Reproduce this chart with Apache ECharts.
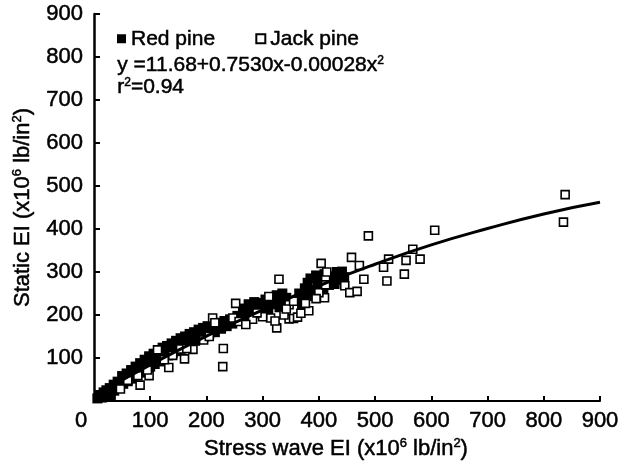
<!DOCTYPE html>
<html>
<head>
<meta charset="utf-8">
<script src="https://cdn.jsdelivr.net/npm/echarts@6/dist/echarts.min.js"></script>
<style>html,body{margin:0;padding:0;background:#fff;}#c{width:627px;height:473px;}</style>
</head>
<body>
<div id="c"></div>
<script>
// ---- data ----
const seriesNames = ['Red pine', 'Jack pine'];
const redPine = [
  [6,6],[10,14],[14,8],[17,20],
  [20,10],[22,25],[25,18],[28,30],[30,14],[35,38],[36,24],[42,45],[44,30],[46,38],[50,58],[52,40],[54,50],
  [58,64],[60,46],[62,56],[66,72],[68,52],[70,62],[74,80],[76,60],[78,70],[82,88],[84,66],[86,78],
  [90,96],[92,72],[94,84],[98,104],[100,80],[102,92],[106,110],[108,86],[110,98],[114,118],[116,92],[118,104],
  [122,124],[124,98],[126,112],[130,128],[132,106],[134,118],[138,134],[140,112],[142,124],[146,140],[148,116],[150,128],
  [154,146],[156,122],[158,134],[162,150],[164,128],[166,140],[170,156],[172,134],[174,146],[178,160],[180,140],[182,150],
  [186,166],[188,144],[190,156],[194,170],[196,150],[198,160],[202,174],[205,156],[208,166],[212,178],[215,160],[218,170],
  [222,182],[226,168],[232,186],[236,174],[242,190],[246,180],[255,198],[260,188],[265,215],[268,200],[270,190],
  [275,225],[278,210],[280,198],[285,230],[288,215],[290,204],[295,228],[298,212],[305,236],[308,220],[310,208],
  [315,240],[318,225],[325,246],[328,230],[330,218],[335,250],[338,235],[342,240],[345,226],[365,250],[368,236],[370,225],
  [375,262],[378,248],[380,275],[385,285],[388,258],[390,244],[395,292],[398,270],[400,255],[405,280],[408,262],[410,295],
  [415,285],[418,270],[425,290],[428,272],[432,300],[436,282],[441,301],[445,288]
];
const jackPine = [
  [838,480],[835,416],[606,397],[567,353],[555,327],[580,330],[552,295],[488,384],[524,330],[515,311],[521,279],[480,283],
  [472,315],[458,334],[446,268],[455,252],[468,255],[404,320],[410,240],[329,283],[252,227],[211,193],[247,193],[230,122],
  [229,80],[325,170],[347,191],[355,192],[362,195],[368,204],[382,210],[347,224],[314,193],[376,227],[412,289],[311,243],
  [176,120],[161,98],[133,78],[113,119],[98,59],[82,37],[47,28],[78,59],[125,96],[154,121],
  [60,48],[95,72],[140,106],[165,122],[195,142],[205,150],[215,182],[258,185],[282,190],[300,196],[322,186],[338,200],
  [342,214],[355,232],[400,252],[412,270],[414,300],[395,238],[290,205],[270,178]
];
const fitX = [20,100,200,300,400,500,600,700,800,900];
const fitY = [27,84,151,212,268,318,363,401,435,462];
const axisMax = 900, axisStep = 100;
const xName = 'Stress wave EI (x10{sup|6} lb/in{sup|2})';
const yName = 'Static EI (x10{sup|6} lb/in{sup|2})';
const equation = 'y =11.68+0.7530x-0.00028x{sup|2}';
const rSquared = 'r{sup|2}=0.94';

const FONT = "'Liberation Sans', Arial, Helvetica, sans-serif";
const thick = { textBorderColor: '#000', textBorderWidth: 0.5 };
const supStyle = Object.assign({ fontSize: 13, lineHeight: 13, verticalAlign: 'top', fontFamily: FONT, color: '#000' }, thick);

const chart = echarts.init(document.getElementById('c'), null, { renderer: 'canvas' });
chart.setOption({
  animation: false,
  backgroundColor: '#fff',
  textStyle: { fontFamily: FONT, color: '#000' },
  grid: { left: 94, right: 27, top: 14, bottom: 72, containLabel: false, outerBoundsMode: 'none' },
  legend: {
    data: [{ name: seriesNames[0], icon: 'rect' }, { name: seriesNames[1], icon: 'rect' }],
    left: 117, top: 28, padding: 0,
    itemWidth: 9, itemHeight: 9, itemGap: 40,
    textStyle: Object.assign({ fontSize: 21, color: '#000', fontFamily: FONT }, thick)
  },
  graphic: [{
    type: 'text', left: 117, top: 54,
    style: {
      text: equation + '\n' + rSquared,
      font: '21px ' + FONT, fill: '#000', lineHeight: 22, stroke: '#000', lineWidth: 0.5,
      rich: { sup: { fontSize: 12, lineHeight: 12, verticalAlign: 'top', fill: '#000', fontFamily: FONT, stroke: '#000', lineWidth: 0.5 } }
    }
  }],
  xAxis: {
    type: 'value', min: 0, max: axisMax, interval: axisStep,
    splitLine: { show: false },
    axisLine: { lineStyle: { color: '#000', width: 2 } },
    axisTick: { inside: true, length: 5, lineStyle: { color: '#000', width: 2 } },
    axisLabel: Object.assign({
      fontSize: 22, color: '#000', margin: 9, fontFamily: FONT,
      formatter: v => v === 0 ? '{z|0}' : String(v),
      rich: { z: Object.assign({ fontSize: 22, padding: [0, 26, 0, 0], fontFamily: FONT, color: '#000' }, thick) }
    }, thick),
    name: xName, nameLocation: 'middle', nameGap: 36,
    nameTextStyle: Object.assign({ fontSize: 22, lineHeight: 24, color: '#000', fontFamily: FONT, padding: [0, 22, 0, 0], rich: { sup: supStyle } }, thick)
  },
  yAxis: {
    type: 'value', min: 0, max: axisMax, interval: axisStep,
    splitLine: { show: false },
    axisLine: { lineStyle: { color: '#000', width: 2.5 } },
    axisTick: { inside: true, length: 6, lineStyle: { color: '#000', width: 2 } },
    axisLabel: Object.assign({
      fontSize: 22, color: '#000', margin: 11, fontFamily: FONT,
      formatter: v => v === 0 ? '' : String(v)
    }, thick),
    name: yName, nameLocation: 'middle', nameGap: 51,
    nameTextStyle: Object.assign({ fontSize: 22, lineHeight: 24, color: '#000', fontFamily: FONT, rich: { sup: supStyle } }, thick)
  },
  series: [
    {
      name: seriesNames[0], type: 'scatter', data: redPine,
      symbol: 'rect', symbolSize: 10,
      itemStyle: { color: '#000', opacity: 1 }, z: 2
    },
    {
      name: seriesNames[1], type: 'scatter', data: jackPine,
      symbol: 'rect', symbolSize: 8,
      itemStyle: { color: '#fff', borderColor: '#000', borderWidth: 1.6, opacity: 1 }, z: 3
    },
    {
      name: 'fit', type: 'line', data: fitX.map((x, i) => [x, fitY[i]]),
      smooth: true, showSymbol: false, symbol: 'none',
      lineStyle: { color: '#000', width: 3 }, z: 4, silent: true
    }
  ]
});
</script>
</body>
</html>
